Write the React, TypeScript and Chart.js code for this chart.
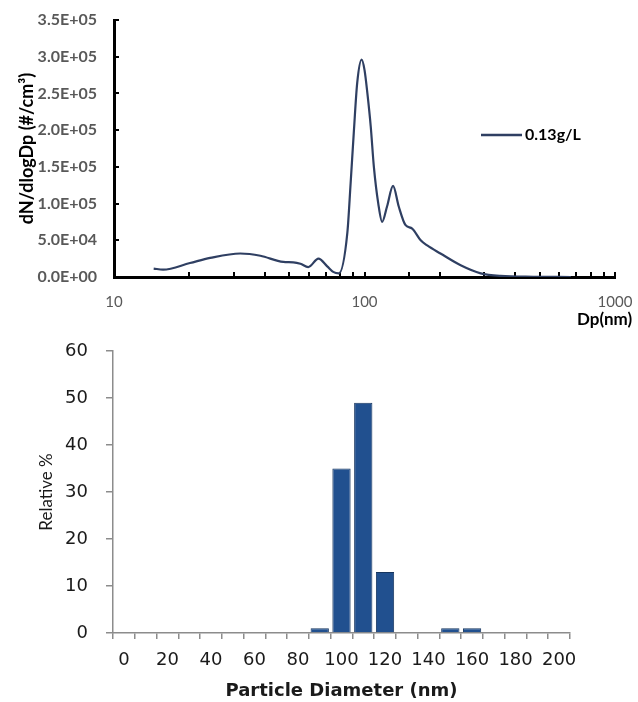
import React, { useEffect, useRef } from 'react';
import { Chart, registerables } from 'chart.js';

Chart.register(...registerables);

// ---- Top chart: size distribution (log axis) ----
const seriesLabel = '0.13g/L';
const dpValues = [14.4, 15.7, 20.1, 24.2, 31.9, 38.4, 47.4, 52, 55.5, 59.6, 65.5, 71, 75, 79, 85.4, 88, 90.6, 93.5, 97.4, 100, 102.7, 105.9, 109, 113.5, 117.6, 123, 130, 137, 145.6, 155, 167.6, 178, 201, 242, 291, 349, 473, 667];
const dnValues = [11500, 10000, 19000, 26000, 32000, 29000, 20500, 20000, 18000, 13500, 25000, 14500, 7000, 5000, 60000, 127000, 196000, 264000, 296000, 282000, 250000, 205000, 150000, 100000, 75000, 96000, 124000, 96000, 71000, 66000, 50000, 43000, 32000, 16000, 5000, 1400, 300, 0];
const topYTicks = { min: 0, max: 350000, step: 50000 };
const topXRange = { min: 10, max: 1000 };
const topXTitle = 'Dp(nm)';
const topYTitle = 'dN/dlogDp (#/cm³)';

// ---- Bottom chart: relative % histogram ----
const sizeCategories = ['0', '10', '20', '30', '40', '50', '60', '70', '80', '90', '100', '110', '120', '130', '140', '150', '160', '170', '180', '190', '200'];
const relativeValues = [0, 0, 0, 0, 0, 0, 0, 0, 0, 1, 35, 49, 13, 0, 0, 1, 1, 0, 0, 0, 0];
const bottomYTicks = { min: 0, max: 60, step: 10 };
const bottomXTitle = 'Particle Diameter (nm)';
const bottomYTitle = 'Relative %';

function sci(v: number): string {
  if (v === 0) return '0.0E+00';
  const e = Math.floor(Math.log10(v) + 1e-9);
  const m = v / Math.pow(10, e);
  return m.toFixed(1) + 'E+' + String(e).padStart(2, '0');
}

function isDecade(v: number): boolean {
  const l = Math.log10(v);
  return Math.abs(l - Math.round(l)) < 1e-9;
}

function fixSize(prop: 'width' | 'height', size: number) {
  return (s: any) => {
    s[prop] = size;
    s.paddingTop = 0;
    s.paddingBottom = 0;
    s.paddingLeft = 0;
    s.paddingRight = 0;
  };
}

const topExtras = {
  id: 'topExtras',
  afterDraw(chart: any) {
    const { ctx, chartArea } = chart;
    const ds = chart.data.datasets[0];
    ctx.save();
    const lx = chartArea.right - 134;
    const ly = chartArea.top + 115;
    ctx.strokeStyle = ds.borderColor;
    ctx.lineWidth = 2.5;
    ctx.beginPath();
    ctx.moveTo(lx, ly);
    ctx.lineTo(lx + 41, ly);
    ctx.stroke();
    ctx.fillStyle = '#000';
    ctx.font = 'bold 16px Lato';
    ctx.textBaseline = 'middle';
    ctx.textAlign = 'left';
    ctx.fillText(ds.label, lx + 44, ly);
    ctx.font = 'bold 17px Lato';
    ctx.fillText(topXTitle, chartArea.right - 38, chartArea.bottom + 43);
    ctx.restore();
  },
};

function barFill(c: any) {
  const chart = c.chart;
  const meta = chart.getDatasetMeta(c.datasetIndex);
  const el = meta && meta.data ? meta.data[c.dataIndex] : null;
  if (!el || !isFinite(el.x) || !isFinite(el.width)) return '#21508F';
  const x0 = el.x - el.width / 2;
  const x1 = el.x + el.width / 2;
  const g = chart.ctx.createLinearGradient(x0, 0, x1, 0);
  g.addColorStop(0, '#1B3F75');
  g.addColorStop(0.45, '#2A5DA3');
  g.addColorStop(1, '#1A3C70');
  return g;
}

export default function App() {
  const topRef = useRef<HTMLCanvasElement>(null);
  const botRef = useRef<HTMLCanvasElement>(null);

  useEffect(() => {
    const top = new Chart(topRef.current as HTMLCanvasElement, {
      type: 'line',
      data: {
        datasets: [
          {
            label: seriesLabel,
            data: dpValues.map((x, i) => ({ x, y: dnValues[i] })),
            borderColor: '#2F3F62',
            borderWidth: 2.2,
            pointRadius: 0,
            cubicInterpolationMode: 'monotone',
            fill: false,
          } as any,
        ],
      },
      options: {
        animation: false,
        responsive: false,
        layout: { padding: { top: 20, right: 23, left: 0, bottom: 0 } },
        plugins: { legend: { display: false }, tooltip: { enabled: false } },
        scales: {
          x: {
            type: 'logarithmic',
            min: topXRange.min,
            max: topXRange.max,
            border: { display: true, color: '#000', width: 3 },
            grid: { display: true, drawOnChartArea: false, drawTicks: true, tickLength: -5, color: '#000', lineWidth: 2 },
            ticks: {
              autoSkip: false,
              maxRotation: 0,
              padding: 21,
              color: '#595959',
              font: { family: 'Lato', size: 15 },
              callback: (v: any) => (isDecade(Number(v)) ? String(Number(v)) : ''),
            },
            afterFit: fixSize('height', 53),
          } as any,
          y: {
            min: topYTicks.min,
            max: topYTicks.max,
            border: { display: true, color: '#000', width: 3 },
            grid: { display: true, drawOnChartArea: false, drawTicks: true, tickLength: -5, color: '#000', lineWidth: 2 },
            ticks: {
              stepSize: topYTicks.step,
              padding: 22,
              color: '#595959',
              font: { family: 'Lato', size: 16, weight: 'bold' },
              callback: (v: any) => sci(Number(v)),
            },
            title: {
              display: true,
              text: topYTitle,
              color: '#000',
              font: { family: 'Lato', size: 18, weight: 'bold' },
              padding: { top: 16, bottom: 0 },
            },
            afterFit: fixSize('width', 114),
          } as any,
        },
      },
      plugins: [topExtras],
    });

    const bot = new Chart(botRef.current as HTMLCanvasElement, {
      type: 'bar',
      data: {
        labels: sizeCategories,
        datasets: [
          {
            label: bottomYTitle,
            data: relativeValues,
            backgroundColor: barFill,
            borderColor: '#16355F',
            borderWidth: (c: any) => (c.raw > 0 ? 1 : 0),
            barPercentage: 0.84,
            categoryPercentage: 1,
          } as any,
        ],
      },
      options: {
        animation: false,
        responsive: false,
        layout: { padding: { top: 21, right: 68, left: 0, bottom: 0 } },
        plugins: { legend: { display: false }, tooltip: { enabled: false } },
        scales: {
          x: {
            border: { display: true, color: '#8c8c8c', width: 1.5 },
            grid: { display: true, drawOnChartArea: false, tickLength: 6, color: '#8c8c8c', lineWidth: 1.5, offset: true },
            ticks: {
              autoSkip: false,
              maxRotation: 0,
              minRotation: 0,
              padding: 11,
              color: '#1a1a1a',
              font: { family: 'DejaVu Sans', size: 18 },
              callback: (_v: any, i: number) => (i % 2 === 0 ? sizeCategories[i] : ''),
            },
            title: {
              display: true,
              text: bottomXTitle,
              color: '#1a1a1a',
              font: { family: 'DejaVu Sans', size: 18, weight: 'bold' },
              padding: { top: 0, bottom: 0 },
            },
            afterFit: fixSize('height', 69),
          } as any,
          y: {
            min: bottomYTicks.min,
            max: bottomYTicks.max,
            border: { display: true, color: '#8c8c8c', width: 1.5 },
            grid: { display: true, drawOnChartArea: false, tickLength: 7, color: '#8c8c8c', lineWidth: 1.5 },
            ticks: {
              stepSize: bottomYTicks.step,
              padding: 18,
              color: '#1a1a1a',
              font: { family: 'DejaVu Sans', size: 18 },
            },
            title: {
              display: true,
              text: bottomYTitle,
              color: '#1a1a1a',
              font: { family: 'Lato', size: 17 },
              padding: { top: 36, bottom: 0 },
            },
            afterFit: fixSize('width', 113),
          } as any,
        },
      },
    });

    return () => {
      top.destroy();
      bot.destroy();
    };
  }, []);

  return (
    <div style={{ position: 'absolute', left: 0, top: 0, width: 638, height: 702, background: '#fff', overflow: 'hidden' }}>
      <canvas ref={topRef} width={638} height={330} style={{ position: 'absolute', left: 0, top: 0, width: 638, height: 330 }} />
      <canvas ref={botRef} width={638} height={372} style={{ position: 'absolute', left: 0, top: 330, width: 638, height: 372 }} />
    </div>
  );
}
